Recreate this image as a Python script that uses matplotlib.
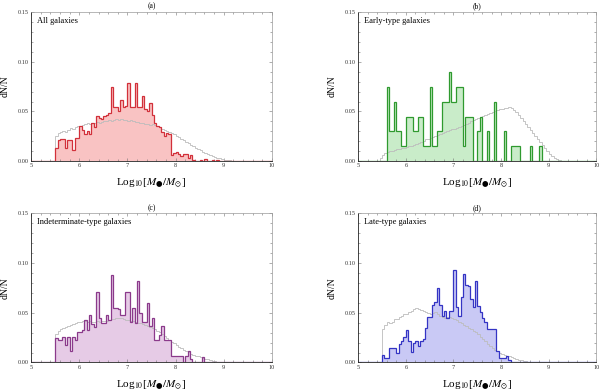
import numpy as np
import matplotlib
matplotlib.use("Agg")
import matplotlib.pyplot as plt
from matplotlib.ticker import MultipleLocator, FormatStrFormatter

plt.rcParams["font.family"] = "serif"
plt.rcParams["font.serif"] = ["Liberation Serif", "DejaVu Serif"]
plt.rcParams["mathtext.fontset"] = "stix"

# bin layout (log10 mass)
BIN = 0.05
OBS_START = 5.5     # first edge of the coloured histograms
MODEL_START = 5.45  # first edge of the grey reference curves

# observed dN/N, one value per 0.05 dex bin starting at 5.5
all_gal = [0.013, 0.021, 0.022, 0.022, 0.013, 0.021, 0.021, 0.011, 0.023, 0.023,
           0.035, 0.031, 0.027, 0.030, 0.027, 0.038, 0.034, 0.045, 0.043, 0.042,
           0.045, 0.046, 0.048, 0.075, 0.054, 0.054, 0.050, 0.062, 0.054, 0.055,
           0.079, 0.054, 0.054, 0.079, 0.054, 0.054, 0.066, 0.052, 0.050, 0.058,
           0.046, 0.038, 0.035, 0.034, 0.029, 0.025, 0.028, 0.027, 0.006, 0.008,
           0.009, 0.007, 0.005, 0.007, 0.007, 0.003, 0.006, 0.001, 0.0, 0.0,
           0.001, 0.0, 0.002, 0.0, 0.0, 0.001, 0.0, 0.001, 0.0]

# early types: raw counts, N = 67
N_EARLY = 67
early_counts = [0, 0, 5, 2, 2, 4, 2, 2, 1, 1,
                3, 3, 3, 2, 2, 3, 3, 1, 1, 1,
                5, 1, 1, 2, 2, 4, 4, 4, 6, 4,
                4, 5, 5, 5, 1, 3, 3, 3, 0, 0,
                2, 3, 0, 0, 2, 0, 0, 4, 0, 0,
                0, 2, 0, 0, 1, 1, 1, 1, 0, 0,
                0, 0, 1, 0, 0, 0, 1, 0]

indet_gal = [0.025, 0.023, 0.023, 0.026, 0.018, 0.026, 0.012, 0.026, 0.023, 0.031,
             0.031, 0.033, 0.043, 0.033, 0.048, 0.039, 0.036, 0.071, 0.045, 0.040,
             0.040, 0.048, 0.043, 0.088, 0.055, 0.055, 0.054, 0.048, 0.048, 0.071,
             0.071, 0.041, 0.055, 0.040, 0.082, 0.050, 0.041, 0.041, 0.060, 0.037,
             0.045, 0.023, 0.023, 0.028, 0.037, 0.023, 0.023, 0.023, 0.007, 0.007,
             0.007, 0.007, 0.007, 0.0, 0.007, 0.012, 0.003, 0.0, 0.0, 0.0,
             0.0, 0.005, 0.0]

late_gal = [0.008, 0.004, 0.004, 0.015, 0.015, 0.015, 0.010, 0.019, 0.022, 0.026,
            0.033, 0.022, 0.011, 0.020, 0.022, 0.017, 0.022, 0.024, 0.035, 0.046,
            0.046, 0.058, 0.061, 0.075, 0.058, 0.047, 0.052, 0.045, 0.052, 0.052,
            0.093, 0.056, 0.047, 0.066, 0.089, 0.078, 0.077, 0.064, 0.056, 0.082,
            0.057, 0.051, 0.045, 0.041, 0.034, 0.034, 0.034, 0.034, 0.012, 0.004,
            0.004, 0.004, 0.006, 0.002, 0.0]

# grey reference curves, one value per 0.05 dex bin starting at 5.45
model_all = [0.0, 0.025, 0.028, 0.029, 0.030, 0.029, 0.031, 0.033, 0.032, 0.034,
             0.035, 0.035, 0.036, 0.037, 0.038, 0.037, 0.038, 0.038, 0.039, 0.038,
             0.039, 0.040, 0.040, 0.041, 0.040, 0.041, 0.042, 0.041, 0.042, 0.041,
             0.041, 0.040, 0.041, 0.040, 0.039, 0.039, 0.038, 0.038, 0.037, 0.037,
             0.036, 0.037, 0.036, 0.035, 0.034, 0.032, 0.031, 0.030, 0.029, 0.028,
             0.027, 0.025, 0.024, 0.022, 0.021, 0.019, 0.018, 0.016, 0.015, 0.013,
             0.012, 0.011, 0.009, 0.008, 0.007, 0.006, 0.005, 0.004, 0.003, 0.0027,
             0.002, 0.0015, 0.0012, 0.0008, 0.0005, 0.0003, 0.0001, 0.0]

model_early = [0.003, 0.006, 0.008, 0.009, 0.010, 0.010, 0.011, 0.012, 0.012, 0.013,
               0.013, 0.014, 0.015, 0.015, 0.016, 0.017, 0.018, 0.019, 0.020, 0.022,
               0.022, 0.023, 0.024, 0.025, 0.026, 0.027, 0.028, 0.029, 0.030, 0.031,
               0.032, 0.032, 0.033, 0.034, 0.035, 0.036, 0.037, 0.038, 0.040, 0.041,
               0.042, 0.043, 0.044, 0.045, 0.046, 0.047, 0.048, 0.049, 0.050, 0.051,
               0.052, 0.052, 0.053, 0.053, 0.054, 0.053, 0.051, 0.049, 0.046, 0.043,
               0.040, 0.037, 0.034, 0.031, 0.028, 0.025, 0.022, 0.019, 0.016, 0.013,
               0.010, 0.007, 0.005, 0.003, 0.002, 0.001, 0.0005, 0.0]

model_indet = [0.0, 0.029, 0.032, 0.034, 0.035, 0.036, 0.037, 0.038, 0.039, 0.040,
               0.041, 0.041, 0.042, 0.042, 0.041, 0.042, 0.041, 0.041, 0.042, 0.041,
               0.042, 0.042, 0.042, 0.043, 0.044, 0.044, 0.045, 0.045, 0.045, 0.044,
               0.043, 0.043, 0.042, 0.042, 0.041, 0.040, 0.040, 0.039, 0.038, 0.037,
               0.036, 0.035, 0.034, 0.032, 0.031, 0.029, 0.027, 0.025, 0.023, 0.021,
               0.020, 0.018, 0.016, 0.015, 0.013, 0.012, 0.011, 0.009, 0.008, 0.007,
               0.006, 0.005, 0.004, 0.003, 0.003, 0.002, 0.001, 0.001, 0.0008, 0.0005,
               0.0003, 0.0]

model_late = [0.0, 0.034, 0.038, 0.041, 0.040, 0.041, 0.044, 0.044, 0.046, 0.047,
              0.049, 0.049, 0.051, 0.052, 0.054, 0.055, 0.054, 0.053, 0.052, 0.051,
              0.050, 0.049, 0.050, 0.051, 0.049, 0.047, 0.046, 0.045, 0.046, 0.046,
              0.045, 0.044, 0.043, 0.041, 0.040, 0.038, 0.037, 0.035, 0.034, 0.032,
              0.031, 0.029, 0.026, 0.024, 0.022, 0.019, 0.017, 0.015, 0.013, 0.012,
              0.010, 0.009, 0.008, 0.007, 0.006, 0.005, 0.004, 0.003, 0.002, 0.002,
              0.001, 0.001, 0.0005, 0.0]

panels = [
    ("(a)", "All galaxies", all_gal, model_all, "#f9c3c3", "#d2303a"),
    ("(b)", "Early-type galaxies", [c / N_EARLY for c in early_counts], model_early,
     "#c9ecc9", "#2f9a2f"),
    ("(c)", "Indeterminate-type galaxies", indet_gal, model_indet, "#e6cbe6", "#8b3a8b"),
    ("(d)", "Late-type galaxies", late_gal, model_late, "#c9c9f5", "#3434c4"),
]

# axes boxes in figure fraction (left, bottom, width, height)
boxes = [
    (0.052, 0.588, 0.401, 0.381),
    (0.597, 0.588, 0.397, 0.381),
    (0.052, 0.073, 0.401, 0.381),
    (0.597, 0.073, 0.397, 0.381),
]


def padded_steps(vals, start):
    edges = start + BIN * np.arange(len(vals) + 1)
    edges = np.concatenate([[5.0], edges, [10.0]])
    vals = np.concatenate([[0.0], vals, [0.0]])
    return vals, edges


fig = plt.figure(figsize=(6.0, 3.91), dpi=100)

for (tag, name, obs, model, face, edge), box in zip(panels, boxes):
    ax = fig.add_axes(box)

    ov, oe = padded_steps(np.asarray(obs, float), OBS_START)
    mv, me = padded_steps(np.asarray(model, float), MODEL_START)

    ax.stairs(ov, oe, fill=True, color=face, lw=0, zorder=1)
    ax.stairs(mv, me, color="#bcbcbc", lw=0.6, zorder=2)
    ax.stairs(ov, oe, color=edge, lw=0.9, zorder=3)

    ax.set_xlim(5, 10)
    ax.set_ylim(0, 0.15)
    ax.xaxis.set_major_locator(MultipleLocator(1))
    ax.xaxis.set_minor_locator(MultipleLocator(0.2))
    ax.yaxis.set_major_locator(MultipleLocator(0.05))
    ax.yaxis.set_minor_locator(MultipleLocator(0.01))
    ax.yaxis.set_major_formatter(FormatStrFormatter("%.2f"))

    ax.tick_params(which="both", direction="in", top=True, right=True,
                   color="#707070", width=0.4, labelsize=4.5, labelcolor="#333333", pad=1.5)
    ax.tick_params(which="major", length=2.5)
    ax.tick_params(which="minor", length=1.3)

    for side in ("left", "bottom"):
        ax.spines[side].set_linewidth(0.6)
        ax.spines[side].set_color("#222222")
    for side in ("top", "right"):
        ax.spines[side].set_linewidth(0.5)
        ax.spines[side].set_color("#9a9a9a")

    ax.set_title(tag, fontsize=5.5, pad=2.5)
    ax.set_xlabel("Log$_{10}$[$M_{\u25CF}/M_{\\odot}$]", fontsize=8, labelpad=6)
    ax.set_ylabel("dN/N", fontsize=7, labelpad=6)
    ax.text(0.025, 0.94, name, transform=ax.transAxes, fontsize=6,
            ha="left", va="center")

fig.savefig("out.png", dpi=100)
